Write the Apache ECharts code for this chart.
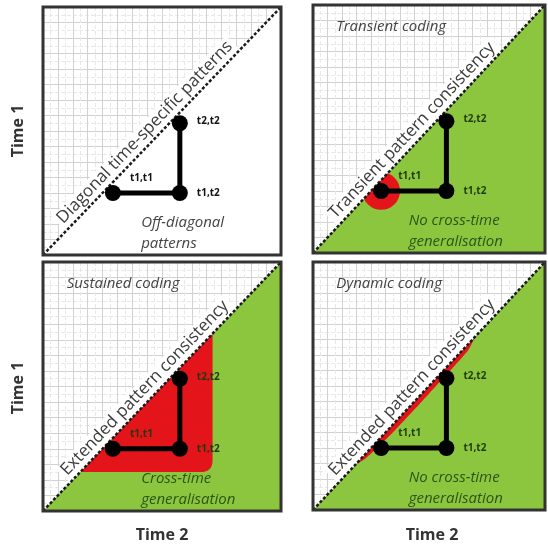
<!DOCTYPE html>
<html>
<head>
<meta charset="utf-8">
<script src="https://cdn.jsdelivr.net/npm/echarts@6/dist/echarts.min.js"></script>
<style>
  html, body { margin: 0; padding: 0; background: #fff; }
  #main { width: 548px; height: 548px; }
</style>
</head>
<body>
<div id="main"></div>
<script>
// ---- data ----
var axisMax = 16;
var timePoints = [[4.7, 4.0], [9.2, 4.0], [9.2, 8.5]];   // t1,t1 / t1,t2 / t2,t2
var pointLabels = ['t1,t1', 't1,t2', 't2,t2'];
var panelTitles = ['', 'Transient coding', 'Sustained coding', 'Dynamic coding'];
var diagonalTexts = ['Diagonal time-specific patterns', 'Transient pattern consistency',
  'Extended pattern consistency', 'Extended pattern consistency'];
var cornerTexts = ['Off-diagonal\npatterns', 'No cross-time\ngeneralisation',
  'Cross-time\ngeneralisation', 'No cross-time\ngeneralisation'];
var lowerTriangle = [[0, 0], [16, 0], [16, 16]];
var diagonal = [[0, 0], [16, 16]];
var transientCentre = [4.7, 4.0];
var transientRadius = 1.3;
var sustainedRegion = [[2.5, 2.5], [11.4, 2.5], [11.4, 11.4]];
var dynamicBand = [[3.0, 3.0], [11.1, 11.1], [10.7, 10.3], [8.0, 7.5], [5.5, 5.0], [3.6, 3.3]];

var green = '#8cc63f';
var red = '#e3141a';
var lowerFills = ['#ffffff', green, green, green];
var labelColors = ['#111', '#1f3a0c', '#1f3a0c', '#1f3a0c'];
var cornerColors = ['#444', '#2c5416', '#2c5416', '#2c5416'];
var font = '"Open Sans", "DejaVu Sans", sans-serif';

var boxes = [
  { left: 43, top: 7, width: 238, height: 248 },
  { left: 313, top: 5, width: 232, height: 248 },
  { left: 43, top: 262, width: 238, height: 249 },
  { left: 313, top: 262, width: 232, height: 248 }
];

var grids = [], xAxes = [], yAxes = [], series = [];

function axisOf(i) {
  return {
    type: 'value', gridIndex: i, min: 0, max: axisMax, interval: 1,
    axisLine: { show: false }, axisTick: { show: false }, axisLabel: { show: false },
    splitLine: { show: true, lineStyle: { color: '#d2d2d2', width: 1 } },
    minorTick: { show: false, splitNumber: 2 },
    minorSplitLine: { show: true, lineStyle: { color: '#e8e8e8', type: 'dashed' } }
  };
}

function polyPoints(api, pts) {
  return pts.map(function (p) { return api.coord(p); });
}

// red region for each panel
function redShape(i, api) {
  if (i === 1) {
    var c = api.coord(transientCentre);
    var r = api.size([transientRadius, 0])[0];
    return { type: 'circle', shape: { cx: c[0], cy: c[1], r: r }, style: { fill: red } };
  }
  if (i === 2) {
    var p = polyPoints(api, sustainedRegion);
    var rad = 12, out = [p[0]];
    var a = [p[1][0] - rad, p[1][1]], b = [p[1][0], p[1][1] - rad];
    for (var k = 0; k <= 8; k++) {
      var t = k / 8;
      out.push([
        (1 - t) * (1 - t) * a[0] + 2 * (1 - t) * t * p[1][0] + t * t * b[0],
        (1 - t) * (1 - t) * a[1] + 2 * (1 - t) * t * p[1][1] + t * t * b[1]
      ]);
    }
    out.push(p[2]);
    return { type: 'polygon', shape: { points: out }, style: { fill: red } };
  }
  if (i === 3) {
    return { type: 'polygon', shape: { points: polyPoints(api, dynamicBand), smooth: 0.2 }, style: { fill: red } };
  }
  return { type: 'group', children: [] };
}

for (var i = 0; i < 4; i++) {
  grids.push(Object.assign({ show: false }, boxes[i]));
  xAxes.push(axisOf(i));
  yAxes.push(axisOf(i));

  (function (i) {
    // lower-right triangle
    series.push({
      type: 'custom', xAxisIndex: i, yAxisIndex: i, z: 1, clip: false, silent: true,
      data: [0],
      renderItem: function (params, api) {
        return { type: 'polygon', shape: { points: polyPoints(api, lowerTriangle) },
          style: { fill: lowerFills[i] } };
      }
    });
    // red pattern region
    series.push({
      type: 'custom', xAxisIndex: i, yAxisIndex: i, z: 2, clip: false, silent: true,
      data: [0],
      renderItem: function (params, api) { return redShape(i, api); }
    });
    // texts: diagonal, title, corner
    series.push({
      type: 'custom', xAxisIndex: i, yAxisIndex: i, z: 3, clip: false, silent: true,
      data: [0],
      renderItem: function (params, api) {
        var p0 = api.coord([0, 0]), p1 = api.coord([axisMax, axisMax]);
        var ang = Math.atan2(p0[1] - p1[1], p1[0] - p0[0]);
        var anchor = api.coord([7.4, 7.4]);
        var title = api.coord([1.6, 14.6]);
        var corner = api.coord([6.6, 1.4]);
        return {
          type: 'group',
          children: [
            { type: 'text', x: anchor[0], y: anchor[1], rotation: ang,
              style: { text: diagonalTexts[i], fill: '#3c3c3c', fontFamily: font, fontSize: 17,
                align: 'center', verticalAlign: 'bottom', backgroundColor: '#fff', padding: [0, 3, 3, 3] } },
            { type: 'text', x: title[0], y: title[1],
              style: { text: panelTitles[i], fill: '#444', fontFamily: font, fontSize: 15,
                fontStyle: 'italic', align: 'left', verticalAlign: 'middle' } },
            { type: 'text', x: corner[0], y: corner[1],
              style: { text: cornerTexts[i], fill: cornerColors[i], fontFamily: font, fontSize: 15,
                fontStyle: 'italic', align: 'left', verticalAlign: 'middle', lineHeight: 21 } }
          ]
        };
      }
    });
    // dotted diagonal
    series.push({
      type: 'line', xAxisIndex: i, yAxisIndex: i, z: 4, symbol: 'none', silent: true,
      data: diagonal,
      lineStyle: { color: '#1a1a1a', width: 2.5, type: [3, 2] }
    });
    // t1/t2 pattern
    var offsets = [[4, -15], [4, 0], [4, -2]];
    series.push({
      type: 'line', xAxisIndex: i, yAxisIndex: i, z: 5, silent: true,
      symbol: 'circle', symbolSize: 16,
      itemStyle: { color: '#000' },
      lineStyle: { color: '#000', width: 5 },
      data: timePoints.map(function (p, k) {
        return {
          value: p,
          label: {
            show: true, position: 'right', offset: offsets[k], formatter: pointLabels[k],
            color: labelColors[i], fontFamily: font, fontSize: 10, fontWeight: 'bold'
          }
        };
      })
    });
    // frame
    series.push({
      type: 'custom', xAxisIndex: i, yAxisIndex: i, z: 10, clip: false, silent: true,
      data: [0],
      renderItem: function (params, api) {
        var tl = api.coord([0, axisMax]), br = api.coord([axisMax, 0]);
        return { type: 'rect', shape: { x: tl[0], y: tl[1], width: br[0] - tl[0], height: br[1] - tl[1] },
          style: { fill: 'none', stroke: '#333', lineWidth: 3 } };
      }
    });
  })(i);
}

var chart = echarts.init(document.getElementById('main'), null, { renderer: 'canvas' });
chart.setOption({
  animation: false,
  backgroundColor: '#fff',
  grid: grids,
  xAxis: xAxes,
  yAxis: yAxes,
  series: series,
  graphic: [
    { type: 'text', x: 18, y: 131, rotation: Math.PI / 2,
      style: { text: 'Time 1', fill: '#333', fontFamily: font, fontSize: 16, fontWeight: 'bold', align: 'center', verticalAlign: 'middle' } },
    { type: 'text', x: 18, y: 388, rotation: Math.PI / 2,
      style: { text: 'Time 1', fill: '#333', fontFamily: font, fontSize: 16, fontWeight: 'bold', align: 'center', verticalAlign: 'middle' } },
    { type: 'text', x: 162, y: 535,
      style: { text: 'Time 2', fill: '#333', fontFamily: font, fontSize: 16, fontWeight: 'bold', align: 'center', verticalAlign: 'middle' } },
    { type: 'text', x: 432, y: 535,
      style: { text: 'Time 2', fill: '#333', fontFamily: font, fontSize: 16, fontWeight: 'bold', align: 'center', verticalAlign: 'middle' } }
  ]
});
</script>
</body>
</html>
